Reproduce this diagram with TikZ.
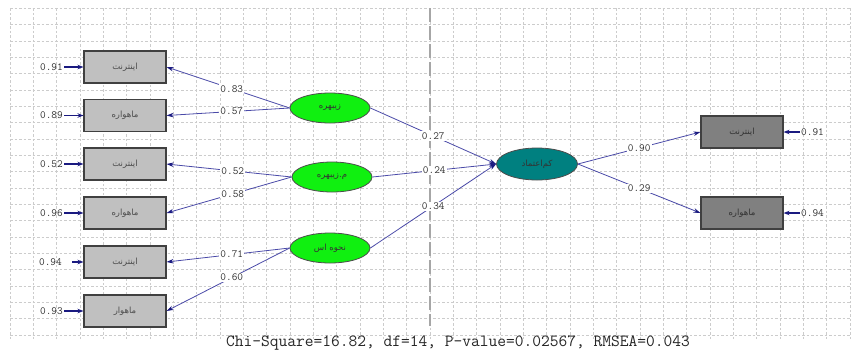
\documentclass[tikz,border=0pt]{standalone}
\usepackage{fontspec}
\newfontfamily\arabicfont[Script=Arabic]{DejaVu Sans}
\TeXXeTstate=1
\usetikzlibrary{arrows.meta,shapes.geometric}
\definecolor{pathblue}{HTML}{4A4AA8}
\definecolor{tipblue}{HTML}{1A1A80}
\definecolor{latgreen}{HTML}{10F010}
\definecolor{teal2}{HTML}{008080}
\definecolor{boxlight}{HTML}{C0C0C0}
\definecolor{boxdark}{HTML}{808080}
\tikzset{
  gridline/.style={draw=black!20, line width=0.6bp, dash pattern=on 2.5bp off 2bp},
  midline/.style={draw=black!35, line width=2bp, dash pattern=on 14bp off 4bp},
  obsleft/.style={rectangle, draw=black!75, fill=boxlight, line width=1.1bp, minimum width=82bp, minimum height=32bp, inner sep=0pt, font=\arabicfont\fontsize{8.5bp}{10bp}\selectfont, text=black!70},
  obsright/.style={obsleft, fill=boxdark, text=black!80},
  latent/.style={ellipse, draw=black!70, fill=latgreen, line width=0.8bp, minimum width=80bp, minimum height=30bp, inner sep=0pt, font=\arabicfont\fontsize{8.5bp}{10bp}\selectfont, text=black!80},
  latentc/.style={latent, fill=teal2, minimum width=81bp, minimum height=32bp},
  path/.style={draw=pathblue, line width=0.8bp, -{Stealth[length=7bp,width=4.5bp,color=tipblue]}},
  errpath/.style={draw=tipblue, line width=1.2bp, -{Stealth[length=6bp,width=4.5bp,color=tipblue]}},
  coef/.style={fill=white, inner sep=1bp, font=\ttfamily\fontsize{11bp}{12bp}\selectfont, text=black!80},
  errtext/.style={inner sep=1bp, font=\ttfamily\fontsize{11bp}{12bp}\selectfont, text=black!80}
}
\newcommand{\fa}[1]{\beginR #1\endR}
\begin{document}
\begin{tikzpicture}[x=1bp, y=-1bp]
\fill[white] (0,0) rectangle (868,350);
\useasboundingbox (0,0) rectangle (868,350);
% grid
\foreach \i in {0,...,36} {\draw[gridline] ({10+23.333*\i},8.3) -- ({10+23.333*\i},340);}
\foreach \j in {0,...,20} {\draw[gridline] (10,{8.3+16.33*\j}) -- (850,{8.3+16.33*\j});}
\draw[midline] (430,8) -- (430,326);
% observed left
\node[obsleft] (L1) at (125,67) {\fa{اینترنت}};
\node[obsleft] (L2) at (125,115.5) {\fa{ماهواره}};
\node[obsleft] (L3) at (125,164) {\fa{اینترنت}};
\node[obsleft] (L4) at (125,213) {\fa{ماهواره}};
\node[obsleft] (L5) at (125,262) {\fa{اینترنت}};
\node[obsleft] (L6) at (125,311) {\fa{ماهوار}};
% latent
\node[latent] (E1) at (330,108) {\fa{زیبهره}};
\node[latent] (E2) at (332,177) {\fa{م.زیبهره}};
\node[latent] (E3) at (330,248) {\fa{نحوه اس}};
\node[latentc] (C) at (537,164) {\fa{کم‌اعتماد}};
% observed right
\node[obsright] (R1) at (742,132) {\fa{اینترنت}};
\node[obsright] (R2) at (742,213) {\fa{ماهواره}};
% left errors
\foreach \n/\y/\v in {1/67/0.91, 2/115.5/0.89, 3/164/0.52, 4/213/0.96, 6/311/0.93} {
  \node[errtext, anchor=east] (eL\n) at (64,\y) {\v};
  \draw[errpath] (eL\n.east) -- (L\n.west);
}
\node[errtext, anchor=east] (eL5) at (63,262) {0.94};
\coordinate (sL5) at (72,262);
\draw[errpath] (sL5) -- (L5.west);
% right errors
\node[errtext, anchor=west] (eR1) at (800,132) {0.91};
\draw[errpath] (eR1.west) -- (R1.east);
\node[errtext, anchor=west] (eR2) at (800,213) {0.94};
\draw[errpath] (eR2.west) -- (R2.east);
% loadings
\draw[path] (E1.west) -- node[coef, pos=0.47] {0.83} (L1.east);
\draw[path] (E1.west) -- node[coef, pos=0.47] {0.57} (L2.east);
\draw[path] (E2.west) -- node[coef, pos=0.47] {0.52} (L3.east);
\draw[path] (E2.west) -- node[coef, pos=0.47] {0.58} (L4.east);
\draw[path] (E3.west) -- node[coef, pos=0.47] {0.71} (L5.east);
\draw[path] (E3.west) -- node[coef, pos=0.47] {0.60} (L6.east);
% structural
\draw[path] (E1.east) -- node[coef, pos=0.5] {0.27} (C.west);
\draw[path] (E2.east) -- node[coef, pos=0.5] {0.24} (C.west);
\draw[path] (E3.east) -- node[coef, pos=0.5] {0.34} (C.west);
\draw[path] (C.east) -- node[coef, pos=0.5] {0.90} (R1.west);
\draw[path] (C.east) -- node[coef, pos=0.5] {0.29} (R2.west);
% fit
\node[inner sep=0pt, font=\ttfamily\fontsize{17bp}{18bp}\selectfont, text=black!85] (fit) at (458,343) {Chi-Square=16.82, df=14, P-value=0.02567, RMSEA=0.043};
\end{tikzpicture}
\end{document}
